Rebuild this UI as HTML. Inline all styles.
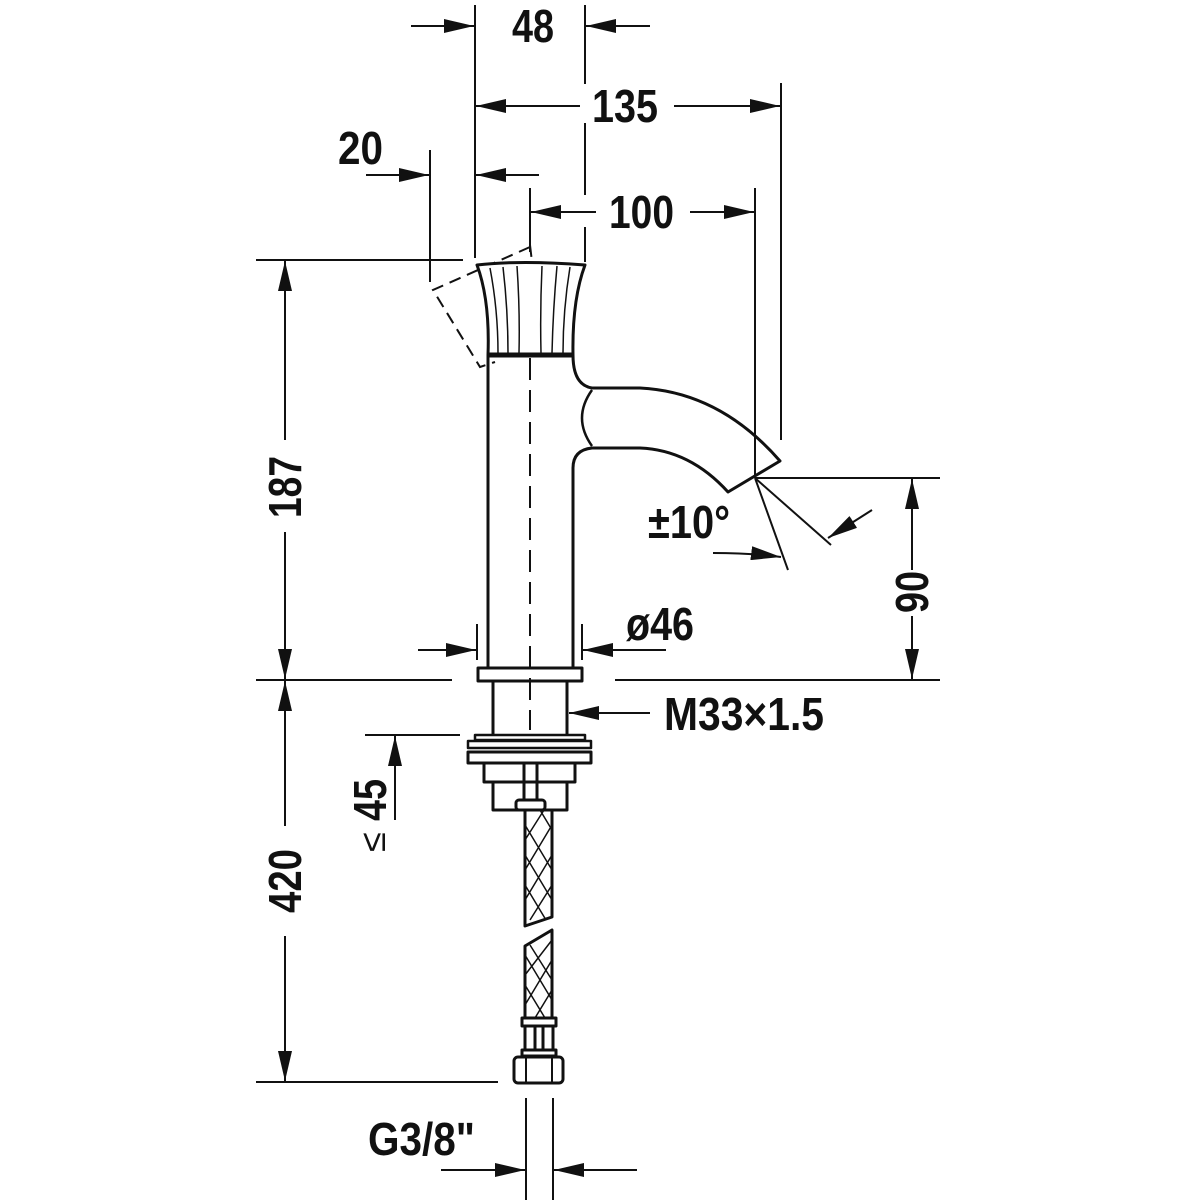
<!DOCTYPE html>
<html><head><meta charset="utf-8"><style>
html,body{margin:0;padding:0;background:#fff}
svg{display:block}
text{font-family:"Liberation Sans",sans-serif;font-weight:bold;fill:#111}
</style></head><body>
<svg width="1200" height="1200" viewBox="0 0 1200 1200" xmlns="http://www.w3.org/2000/svg">
<defs>
<marker id="a" markerUnits="userSpaceOnUse" markerWidth="32" markerHeight="14" refX="30" refY="7" orient="auto">
<path d="M0,0 L30,7 L0,14 Z" fill="#111"/></marker>
</defs>
<g stroke="#111" stroke-width="2" fill="none">
<line x1="475" y1="5" x2="475" y2="258"/>
<line x1="585" y1="5" x2="585" y2="84"/>
<line x1="585" y1="123" x2="585" y2="195"/>
<line x1="585" y1="227" x2="585" y2="262"/>
<line x1="411" y1="26" x2="474" y2="26" marker-end="url(#a)"/>
<line x1="650" y1="26" x2="586" y2="26" marker-end="url(#a)"/>
<line x1="781" y1="83" x2="781" y2="440"/>
<line x1="580" y1="106" x2="476" y2="106" marker-end="url(#a)"/>
<line x1="674" y1="106" x2="780" y2="106" marker-end="url(#a)"/>
<line x1="430" y1="150" x2="430" y2="282"/>
<line x1="366" y1="175" x2="429" y2="175" marker-end="url(#a)"/>
<line x1="539" y1="175" x2="476" y2="175" marker-end="url(#a)"/>
<line x1="530" y1="188" x2="530" y2="252"/>
<line x1="755" y1="188" x2="755" y2="478"/>
<line x1="596" y1="212" x2="531" y2="212" marker-end="url(#a)"/>
<line x1="690" y1="212" x2="754" y2="212" marker-end="url(#a)"/>
<line x1="256" y1="260" x2="463" y2="260"/>
<line x1="256" y1="680" x2="452" y2="680"/>
<line x1="256" y1="1082" x2="498" y2="1082"/>
<line x1="285" y1="440" x2="285" y2="261" marker-end="url(#a)"/>
<line x1="285" y1="532" x2="285" y2="679" marker-end="url(#a)"/>
<line x1="285" y1="826" x2="285" y2="681" marker-end="url(#a)"/>
<line x1="285" y1="936" x2="285" y2="1081" marker-end="url(#a)"/>
<line x1="365" y1="735" x2="460" y2="735"/>
<line x1="395" y1="820" x2="395" y2="736" marker-end="url(#a)"/>
<line x1="755" y1="478" x2="940" y2="478"/>
<line x1="615" y1="680" x2="940" y2="680"/>
<line x1="912" y1="570" x2="912" y2="479" marker-end="url(#a)"/>
<line x1="912" y1="616" x2="912" y2="679" marker-end="url(#a)"/>
<line x1="755" y1="478" x2="788" y2="570"/>
<line x1="755" y1="478" x2="831" y2="545"/>
<path d="M713,553 Q750,553 781,557" marker-end="url(#a)"/>
<line x1="872" y1="510" x2="828" y2="538" marker-end="url(#a)"/>
<line x1="477" y1="624" x2="477" y2="660"/>
<line x1="582" y1="624" x2="582" y2="660"/>
<line x1="418" y1="650" x2="476" y2="650" marker-end="url(#a)"/>
<line x1="666" y1="650" x2="583" y2="650" marker-end="url(#a)"/>
<line x1="650" y1="713" x2="569" y2="713" marker-end="url(#a)"/>
<line x1="526" y1="1098" x2="526" y2="1200"/>
<line x1="553" y1="1098" x2="553" y2="1200"/>
<line x1="441" y1="1170" x2="525" y2="1170" marker-end="url(#a)"/>
<line x1="637" y1="1170" x2="554" y2="1170" marker-end="url(#a)"/>
<line x1="530" y1="262" x2="530" y2="730" stroke-dasharray="22,10"/>
<path d="M530,245 L532,262 M530,247 L433,290 L480,367 L495,362" stroke-dasharray="12,7"/>
</g>
<g stroke="#111" stroke-width="3" fill="none" stroke-linejoin="round">
<path d="M477,265 Q520,260 585,265 Q572,300 573,355 L488,355 Q490,300 477,265 Z" fill="#fff"/>
<path d="M490,268 Q498,310 498,353 M503,267 Q508,310 508,353 M517,266 Q520,310 519,353 M542,266 Q540,310 541,353 M557,266 Q553,310 552,353 M570,267 Q563,310 563,353" stroke-width="1.5"/>
<line x1="488" y1="355" x2="573" y2="355" stroke-width="5"/>
<path d="M488,355 L488,668 M573,355 Q573,385 592,388 L640,388 Q720,392 780,461 L728,492 Q690,450 640,448 L592,448 Q573,450 573,468 L573,668"/>
<path d="M592,390 Q572,418 592,446" stroke-width="2.5"/>
<rect x="478" y="668" width="104" height="13"/>
<path d="M493,681 L493,735 M567,681 L567,735"/>
<rect x="475" y="735" width="110" height="5" stroke-width="2.5"/>
<rect x="468" y="741" width="123" height="7" stroke-width="2.5"/>
<rect x="468" y="752" width="123" height="11"/>
<path d="M484,763 L484,782 L493,782 L493,810 L567,810 L567,782 L575,782 L575,763"/>
<path d="M484,782 L575,782"/>
<path d="M524,763 L524,800 M537,763 L537,800"/>
<rect x="516" y="800" width="29" height="10" rx="3"/>
<path d="M525,810 L525,926 L552,917 L552,810"/>
<path d="M525,946 L552,930 L552,1018 L525,1018 Z"/>
<rect x="522" y="1018" width="34" height="8"/>
<path d="M525,1026 L525,1050 M553,1026 L553,1050 M535,1026 L535,1050 M543,1026 L543,1050"/>
<rect x="522" y="1050" width="34" height="6"/>
<rect x="514" y="1057" width="49" height="26" rx="4"/>
<path d="M526,1057 L526,1083 M552,1057 L552,1083" stroke-width="2"/>
</g>
<g stroke="#111" stroke-width="1.5">
<path d="M525,825 L552,870 M525,855 L552,900 M525,885 L546,920 M540,810 L552,830 M525,840 L544,810 M525,870 L552,825 M525,900 L552,855 M530,920 L552,885"/>
<path d="M525,955 L552,1000 M525,985 L545,1018 M530,945 L552,980 M525,975 L552,940 M525,1005 L552,960 M535,1018 L552,990"/>
</g>
<g font-size="46">
<text x="512" y="42" textLength="42" lengthAdjust="spacingAndGlyphs">48</text>
<text x="592" y="122" textLength="66" lengthAdjust="spacingAndGlyphs">135</text>
<text x="338" y="164" textLength="45" lengthAdjust="spacingAndGlyphs">20</text>
<text x="609" y="228" textLength="65" lengthAdjust="spacingAndGlyphs">100</text>
<text x="648" y="538" textLength="82" lengthAdjust="spacingAndGlyphs">±10°</text>
<text x="626" y="640" textLength="68" lengthAdjust="spacingAndGlyphs">ø46</text>
<text x="664" y="730" textLength="160" lengthAdjust="spacingAndGlyphs">M33×1.5</text>
<text x="368" y="1155" textLength="107" lengthAdjust="spacingAndGlyphs">G3/8"</text>
<text transform="translate(301,518) rotate(-90)" textLength="62" lengthAdjust="spacingAndGlyphs">187</text>
<text transform="translate(301,913) rotate(-90)" textLength="64" lengthAdjust="spacingAndGlyphs">420</text>
<text transform="translate(928,613) rotate(-90)" textLength="42" lengthAdjust="spacingAndGlyphs">90</text>
<text transform="translate(386,821) rotate(-90)" textLength="42" lengthAdjust="spacingAndGlyphs">45</text>
</g>
<text transform="translate(385,842) rotate(-90)" font-size="36" style="font-weight:normal" text-anchor="middle">≤</text>
</svg>
</body></html>
